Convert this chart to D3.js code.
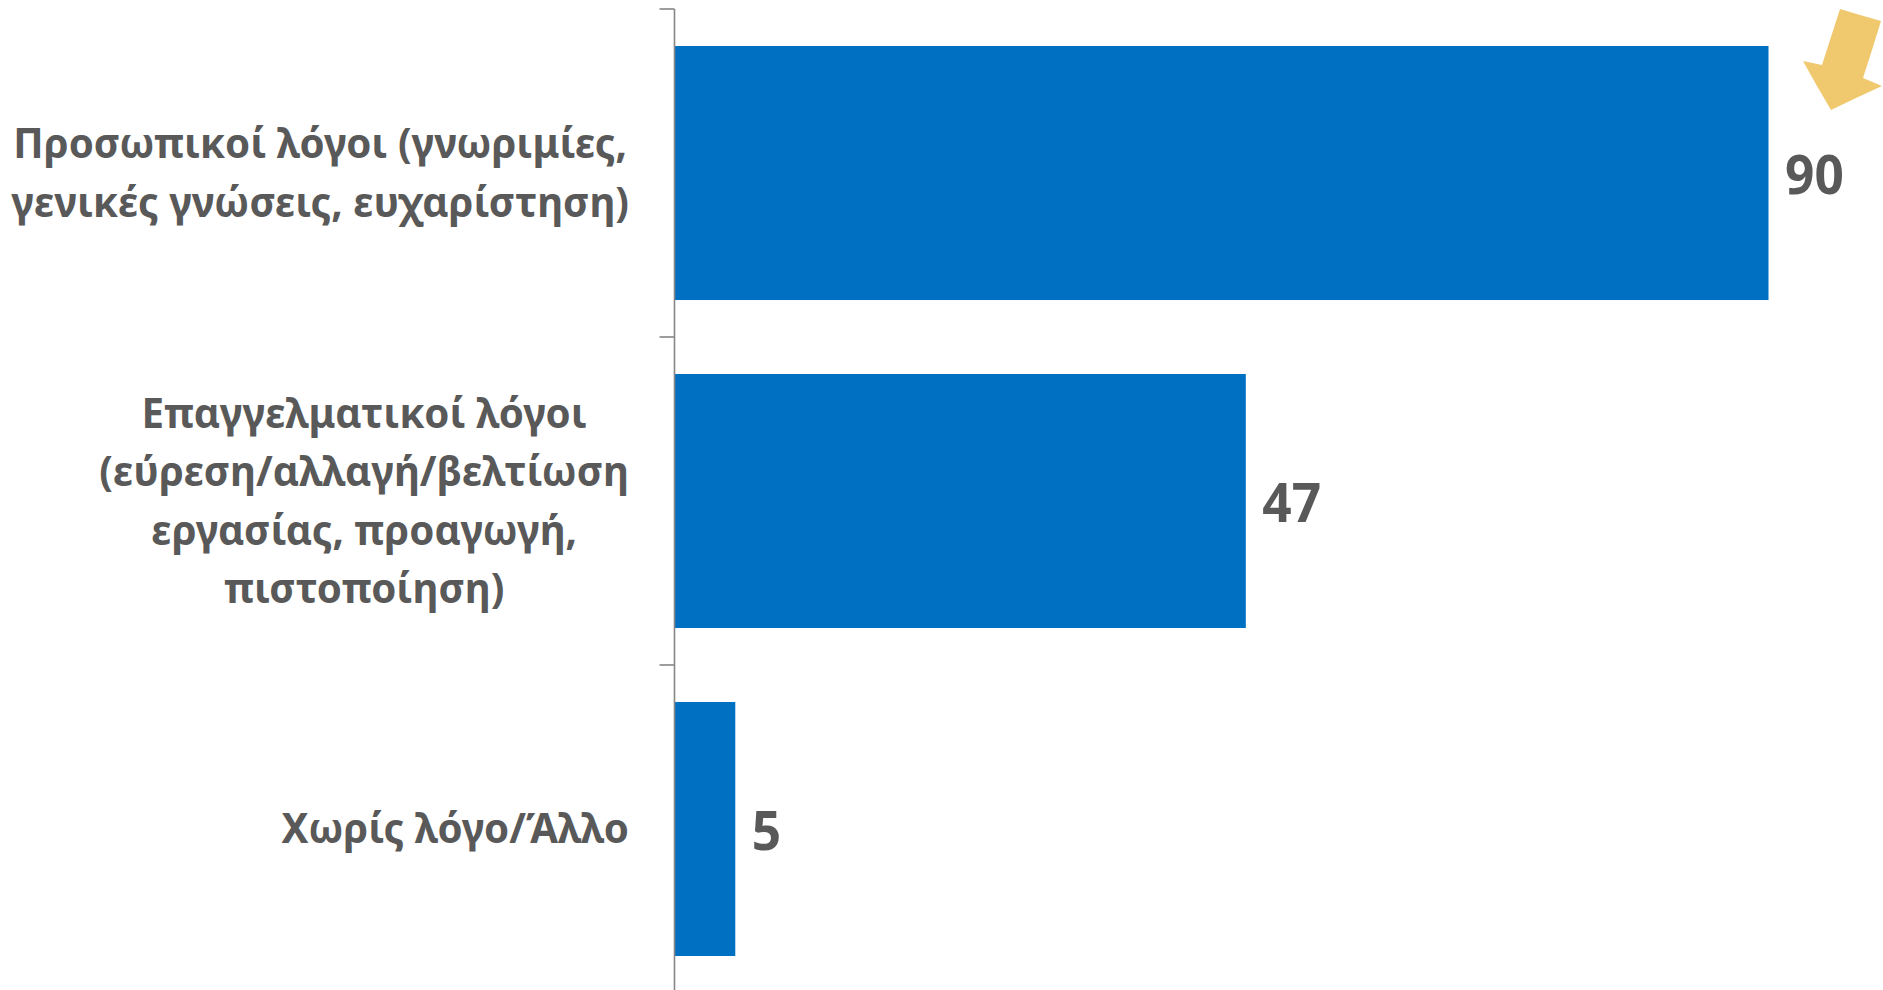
<!DOCTYPE html>
<html><head><meta charset="utf-8">
<script src="https://cdn.jsdelivr.net/npm/d3@7/dist/d3.min.js"></script>
<style>html,body{margin:0;padding:0;background:#fff;overflow:hidden}svg{display:block}</style>
</head><body><svg id="c" width="1883" height="990"></svg>
<script>
const categories = ["personal", "professional", "none"];
const labelLines = [
  ["Προσωπικοί λόγοι (γνωριμίες,", "γενικές γνώσεις, ευχαρίστηση)"],
  ["Επαγγελματικοί λόγοι", "(εύρεση/αλλαγή/βελτίωση", "εργασίας, προαγωγή,", "πιστοποίηση)"],
  ["Χωρίς λόγο/Άλλο"]
];
const values = [90, 47, 5];

const svg = d3.select("#c");
const axisX = 674.5, plotTop = 9, plotBottom = 993, xMaxPx = 1768.5;
const x = d3.scaleLinear().domain([0, 90]).range([axisX, xMaxPx]);
const y = d3.scaleBand().domain(categories).range([plotTop, plotBottom]).paddingInner(0.2255).paddingOuter(0.1128);

svg.selectAll("rect.bar").data(values).join("rect").attr("class", "bar")
  .attr("x", x(0)).attr("y", (d, i) => y(categories[i]))
  .attr("width", d => x(d) - x(0)).attr("height", y.bandwidth()).attr("fill", "#0070C3");

const grey = "#868686";
svg.append("line").attr("x1", axisX).attr("x2", axisX).attr("y1", plotTop).attr("y2", 990)
  .attr("stroke", grey).attr("stroke-width", 1.6);
svg.selectAll("line.tick").data(categories).join("line").attr("class", "tick")
  .attr("x1", axisX - 15).attr("x2", axisX)
  .attr("y1", (d, i) => plotTop + i * y.step()).attr("y2", (d, i) => plotTop + i * y.step())
  .attr("stroke", grey).attr("stroke-width", 1.6);

const font = "'Noto Sans', 'Open Sans', sans-serif", textColor = "#595959";
const squeeze = 0.995, lineH = 58.5, rightEdge = 629;
labelLines.forEach((lines, i) => {
  const cy = y(categories[i]) + y.bandwidth() / 2;
  const g = svg.append("g");
  const ts = lines.map((l, j) => g.append("text").text(l)
    .attr("font-family", font).attr("font-weight", 700).attr("font-size", 40.5).attr("fill", textColor)
    .attr("text-anchor", "middle")
    .attr("transform", `translate(0,${cy + (j - (lines.length - 1) / 2) * lineH + 14.5}) scale(${squeeze},1)`));
  const w = d3.max(ts, t => t.node().getComputedTextLength()) * squeeze;
  g.attr("transform", `translate(${rightEdge - w / 2},0)`);
});

svg.selectAll("text.val").data(values).join("text").attr("class", "val")
  .text(d => d).attr("font-family", font).attr("font-weight", 700).attr("font-size", 53).attr("fill", textColor)
  .attr("transform", (d, i) => `translate(${x(d) + 16.5},${y(categories[i]) + y.bandwidth() / 2 + 21}) scale(0.97,1)`);

// Decorative hand-drawn arrow
svg.append("path").attr("fill", "#F0C86E")
  .attr("d", "M1840,9 L1860,15 L1881,21 L1872,50 L1863,78 L1882,86 L1856,98 L1831,110 L1817,86 L1803,61 L1822,65 L1831,37 Z");
</script></body></html>
